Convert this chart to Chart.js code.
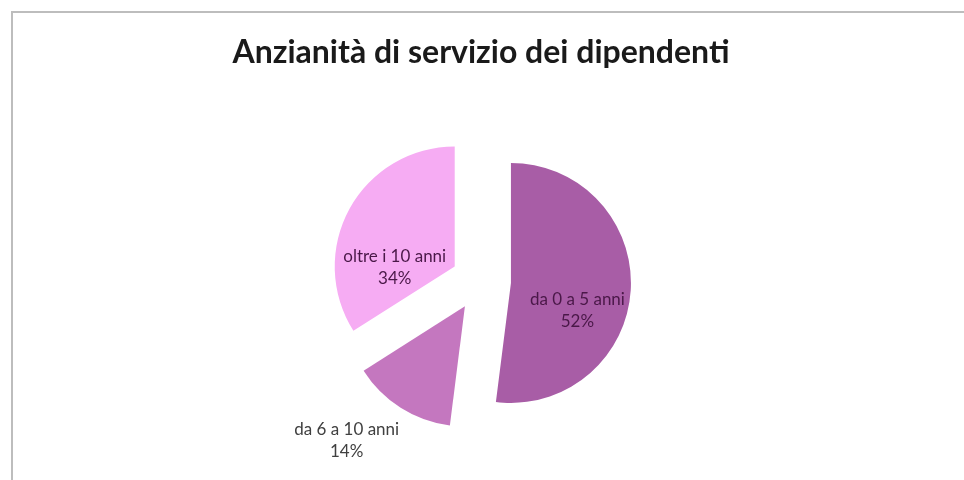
<!DOCTYPE html>
<html lang="it">
<head>
    <meta charset="UTF-8">
    <title>Anzianità di servizio dei dipendenti</title>
    <script src="https://cdn.jsdelivr.net/npm/chart.js"></script>
    <style>
        body { margin: 0; background: #fff; }
        #wrap { position: relative; width: 964px; height: 480px; overflow: hidden; }
        /* frame of the chart, runs past the right and bottom edge */
        #frame {
            position: absolute; left: 11px; top: 11px;
            width: 1000px; height: 600px;
            border-left: 2px solid #bdbdbd; border-top: 2px solid #bdbdbd;
        }
        #seniorityChart { position: absolute; left: 0; top: 0; }
    </style>
</head>
<body>
<div id="wrap">
    <div id="frame"></div>
    <canvas id="seniorityChart" width="964" height="480"></canvas>
</div>

<script>
    const categories = ['da 0 a 5 anni', 'da 6 a 10 anni', 'oltre i 10 anni'];
    const shares = [52, 14, 34];
    const sliceColors = ['#a85da6', '#c477bf', '#f6acf3'];

    const EXPLODE = 30;

    // where each label goes: angle shift from the slice middle (deg) and distance as part of the radius
    const labelStyle = [
        { shift: 19, dist: 0.6, color: '#4a1848' },
        { shift: 9, dist: 1.49, color: '#404040' },
        { shift: -30, dist: 0.5, color: '#4a1848' }
    ];

    const explodedSlices = {
        id: 'explodedSlices',
        beforeDatasetDraw(chart, args) {
            const ctx = chart.ctx;
            args.meta.data.forEach(arc => {
                const mid = (arc.startAngle + arc.endAngle) / 2;
                ctx.save();
                ctx.translate(Math.cos(mid) * EXPLODE, Math.sin(mid) * EXPLODE);
                arc.draw(ctx);
                ctx.restore();
            });
            return false;
        },
        afterDatasetsDraw(chart) {
            const ctx = chart.ctx;
            const meta = chart.getDatasetMeta(0);
            ctx.save();
            ctx.font = '17px Lato';
            ctx.textAlign = 'center';
            ctx.textBaseline = 'middle';
            meta.data.forEach((arc, i) => {
                const mid = (arc.startAngle + arc.endAngle) / 2;
                const cx = arc.x + Math.cos(mid) * EXPLODE;
                const cy = arc.y + Math.sin(mid) * EXPLODE;
                const a = mid + labelStyle[i].shift * Math.PI / 180;
                const r = arc.outerRadius * labelStyle[i].dist;
                const lx = cx + Math.cos(a) * r;
                const ly = cy + Math.sin(a) * r;
                ctx.fillStyle = labelStyle[i].color;
                ctx.fillText(categories[i], lx, ly - 11);
                ctx.fillText(shares[i] + '%', lx, ly + 11);
            });
            ctx.restore();
        }
    };

    const ctx = document.getElementById('seniorityChart').getContext('2d');
    const seniorityChart = new Chart(ctx, {
        type: 'pie',
        data: {
            labels: categories,
            datasets: [{
                data: shares,
                backgroundColor: sliceColors,
                borderWidth: 0,
                radius: 120
            }]
        },
        options: {
            responsive: false,
            animation: false,
            events: [],
            layout: { padding: { left: 10, right: 12, top: 0, bottom: 18 } },
            plugins: {
                legend: { display: false },
                tooltip: { enabled: false },
                title: {
                    display: true,
                    text: 'Anzianità di servizio dei dipendenti',
                    color: '#1a1a1a',
                    font: { family: 'Lato', size: 32, weight: 'bold' },
                    padding: { top: 33, bottom: 28.6 }
                }
            }
        },
        plugins: [explodedSlices]
    });
</script>
</body>
</html>
